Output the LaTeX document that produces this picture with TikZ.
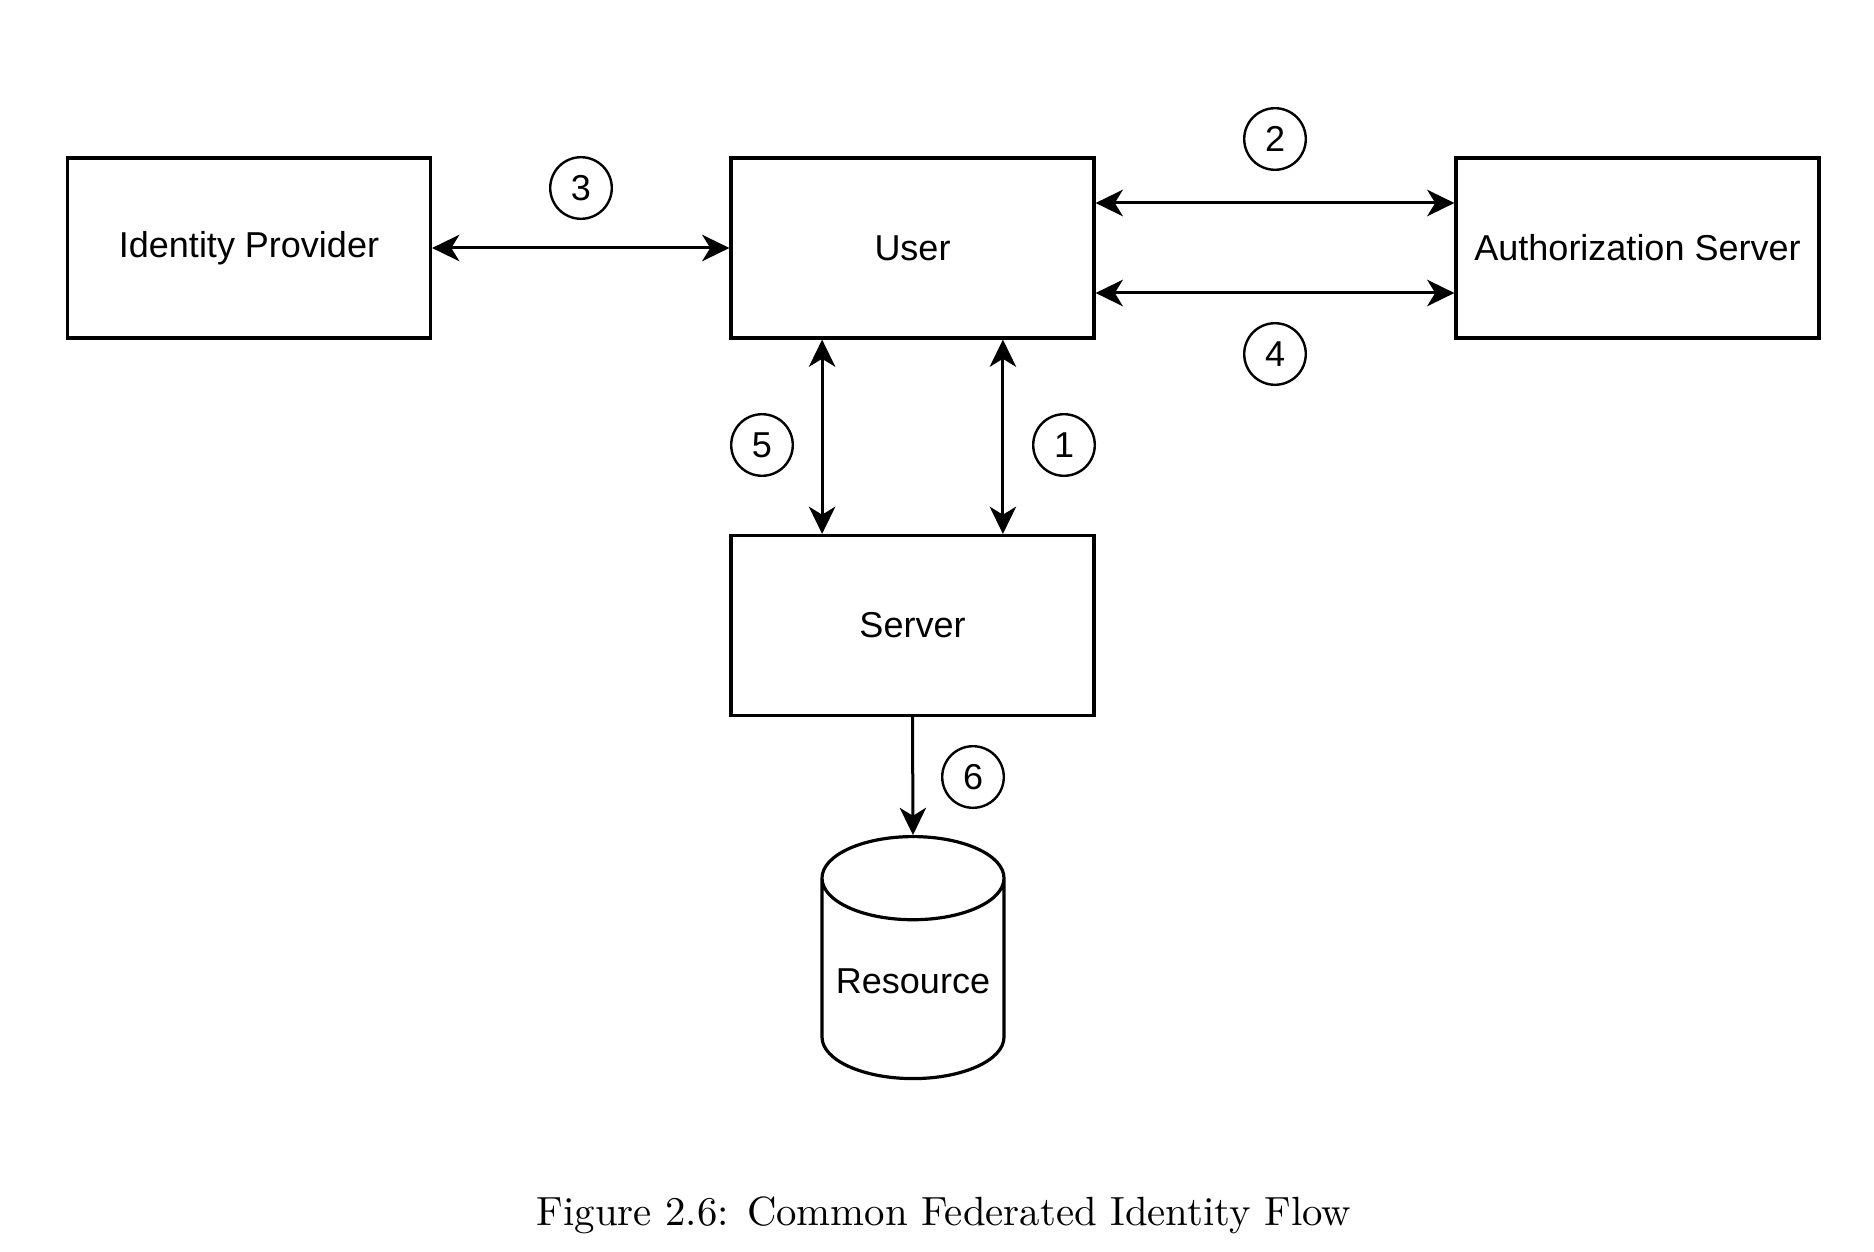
\documentclass[tikz,border=0pt]{standalone}
\usepackage{fontspec}
\newfontfamily\diagfont{Liberation Sans}
\usetikzlibrary{arrows.meta,shapes.geometric}

\begin{document}
\begin{tikzpicture}[x=0.25pt, y=-0.25pt, >={Stealth[length=6.8pt, width=6.6pt, inset=2pt]},
  box/.style={draw=black, line width=0.8pt, fill=white, minimum width=90.75pt, minimum height=45pt, font=\diagfont\fontsize{9}{11}\selectfont},
  num/.style={draw=black, line width=0.6pt, circle, minimum size=15.4pt, inner sep=0pt, font=\diagfont\fontsize{9}{11}\selectfont},
  db/.style={draw=black, line width=0.8pt, cylinder, shape border rotate=90, aspect=0.46, minimum width=45.5pt, minimum height=60.5pt, font=\diagfont\fontsize{9}{11}\selectfont},
  flow/.style={line width=0.75pt, <->}]
\useasboundingbox (0,0) rectangle (1874,1252);
\node[box] (IdP) at (249, 248) {Identity Provider};
\node[box] (User) at (912.5, 248) {User};
\node[box] (Auth) at (1637.5, 248) {Authorization Server};
\node[box] (Server) at (912.5, 625.5) {Server};
\node[db] (Res) at (913, 990) {\raisebox{4.6pt}{Resource}};
\node[num] (N1) at (1064, 445) {1};
\node[num] (N2) at (1275, 139) {2};
\node[num] (N3) at (581, 188) {3};
\node[num] (N4) at (1275, 354) {4};
\node[num] (N5) at (762, 445) {5};
\node[num] (N6) at (973, 777) {6};
\draw [flow] (IdP.east) -- (User.west);
\draw [flow] ([yshift=11.25pt]User.east) -- ([yshift=11.25pt]Auth.west);
\draw [flow] ([yshift=-11.25pt]User.east) -- ([yshift=-11.25pt]Auth.west);
\draw [flow] ([xshift=-22.6pt]User.south) -- ([xshift=-22.6pt]Server.north);
\draw [flow] ([xshift=22.6pt]User.south) -- ([xshift=22.6pt]Server.north);
\draw [line width=0.75pt, ->] (Server.south) -- (Res.north);
\node[anchor=base, font=\fontsize{10.2}{12}\selectfont] (Cap) at (944, 1225) {Figure 2.6: Common Federated Identity Flow};
\end{tikzpicture}
\end{document}
